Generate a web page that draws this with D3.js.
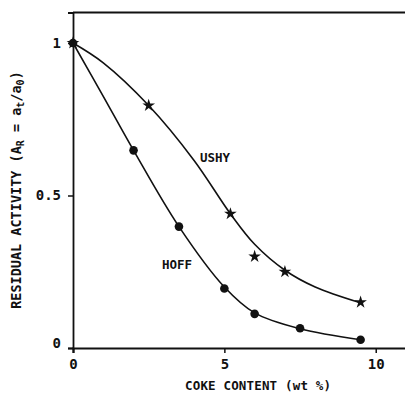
<!DOCTYPE html>
<html>
<head>
<meta charset="utf-8">
<script src="https://cdn.jsdelivr.net/npm/d3@7"></script>
<style>
  body { margin: 0; background: #fff; }
  text { font-family: "DejaVu Sans Mono", monospace; font-weight: bold; fill: #111; }
</style>
</head>
<body>
<div id="chart"></div>
<script>
const width = 405;
const height = 395;

// measured points
const ushyX = [0, 2.5, 5.2, 6.0, 7.0, 9.5];
const ushyY = [1.0, 0.795, 0.44, 0.30, 0.25, 0.15];
const hoffX = [0, 2.0, 3.5, 5.0, 6.0, 7.5, 9.5];
const hoffY = [1.0, 0.648, 0.398, 0.195, 0.112, 0.065, 0.027];

// hand-drawn fit curves
const ushyFitX = [0, 1, 2.5, 4, 5.2, 6, 7, 8, 9.5];
const ushyFitY = [1.0, 0.935, 0.795, 0.615, 0.44, 0.34, 0.255, 0.2, 0.148];
const hoffFitX = [0, 1, 2, 3.5, 5, 6, 7.5, 9.5];
const hoffFitY = [1.0, 0.825, 0.648, 0.398, 0.2, 0.115, 0.063, 0.027];

const xTicks = [0, 5, 10];
const yTicks = [0, 0.5, 1];

const x = d3.scaleLinear().domain([0, 11]).range([73, 406]);
const y = d3.scaleLinear().domain([0, 1.1]).range([348, 12.5]);

const svg = d3.select("#chart")
  .append("svg")
  .attr("width", width)
  .attr("height", height);

// frame top line
svg.append("line")
  .attr("x1", x(0)).attr("x2", x(11))
  .attr("y1", y(1.1)).attr("y2", y(1.1))
  .attr("stroke", "#111").attr("stroke-width", 2);

const xAxis = svg.append("g")
  .attr("transform", `translate(0,${y(0)})`)
  .call(d3.axisBottom(x).tickValues(xTicks).tickSize(5).tickPadding(6).tickFormat(d3.format("d")));
xAxis.select(".domain").attr("stroke", "#111").attr("stroke-width", 2.2);
xAxis.selectAll(".tick line").attr("stroke", "#111").attr("stroke-width", 1.5);
xAxis.selectAll("text").attr("font-size", 14).attr("font-family", "DejaVu Sans Mono").attr("font-weight", "bold").attr("fill", "#111");

const yAxis = svg.append("g")
  .attr("transform", `translate(${x(0)},0)`)
  .call(d3.axisLeft(y).tickValues(yTicks).tickSize(5).tickPadding(7).tickFormat(d => d === 0.5 ? "0.5" : d3.format("d")(d)));
yAxis.select(".domain").attr("stroke", "#111").attr("stroke-width", 1.8);
yAxis.selectAll(".tick line").attr("stroke", "#111").attr("stroke-width", 1.5);
yAxis.selectAll("text").attr("font-size", 14).attr("font-family", "DejaVu Sans Mono").attr("font-weight", "bold").attr("fill", "#111");
yAxis.selectAll(".tick").filter(d => d === 0).select("text").attr("dy", "-0.05em");

const line = d3.line()
  .x(d => x(d[0]))
  .y(d => y(d[1]))
  .curve(d3.curveCatmullRom.alpha(0.5));

svg.append("path")
  .datum(d3.zip(ushyFitX, ushyFitY))
  .attr("d", line)
  .attr("fill", "none").attr("stroke", "#111").attr("stroke-width", 1.6);

svg.append("path")
  .datum(d3.zip(hoffFitX, hoffFitY))
  .attr("d", line)
  .attr("fill", "none").attr("stroke", "#111").attr("stroke-width", 1.6);

const star = d3.symbol().type(d3.symbolStar).size(50);
svg.selectAll(".ushy")
  .data(d3.zip(ushyX, ushyY))
  .enter()
  .append("path")
  .attr("class", "ushy")
  .attr("d", star)
  .attr("transform", d => `translate(${x(d[0])},${y(d[1])})`)
  .attr("fill", "#111");

svg.selectAll(".hoff")
  .data(d3.zip(hoffX, hoffY))
  .enter()
  .append("circle")
  .attr("class", "hoff")
  .attr("cx", d => x(d[0]))
  .attr("cy", d => y(d[1]))
  .attr("r", 4.3)
  .attr("fill", "#111");

svg.append("text")
  .attr("x", 215).attr("y", 162)
  .attr("text-anchor", "middle")
  .attr("font-size", 12.5)
  .text("USHY");

svg.append("text")
  .attr("x", 177).attr("y", 269)
  .attr("text-anchor", "middle")
  .attr("font-size", 12.5)
  .text("HOFF");

svg.append("text")
  .attr("x", 258).attr("y", 390)
  .attr("text-anchor", "middle")
  .attr("font-size", 12.5)
  .attr("textLength", 146)
  .text("COKE CONTENT (wt %)");

const yt = svg.append("text")
  .attr("transform", "translate(21,190) rotate(-90)")
  .attr("text-anchor", "middle")
  .attr("font-size", 13.5);
yt.append("tspan").text("RESIDUAL ACTIVITY (A");
yt.append("tspan").attr("font-size", 10).attr("dy", 3).text("R");
yt.append("tspan").attr("dy", -3).text(" = a");
yt.append("tspan").attr("font-size", 10).attr("dy", 3).text("t");
yt.append("tspan").attr("dy", -3).text("/a");
yt.append("tspan").attr("font-size", 10).attr("dy", 3).text("0");
yt.append("tspan").attr("dy", -3).text(")");
</script>
</body>
</html>
